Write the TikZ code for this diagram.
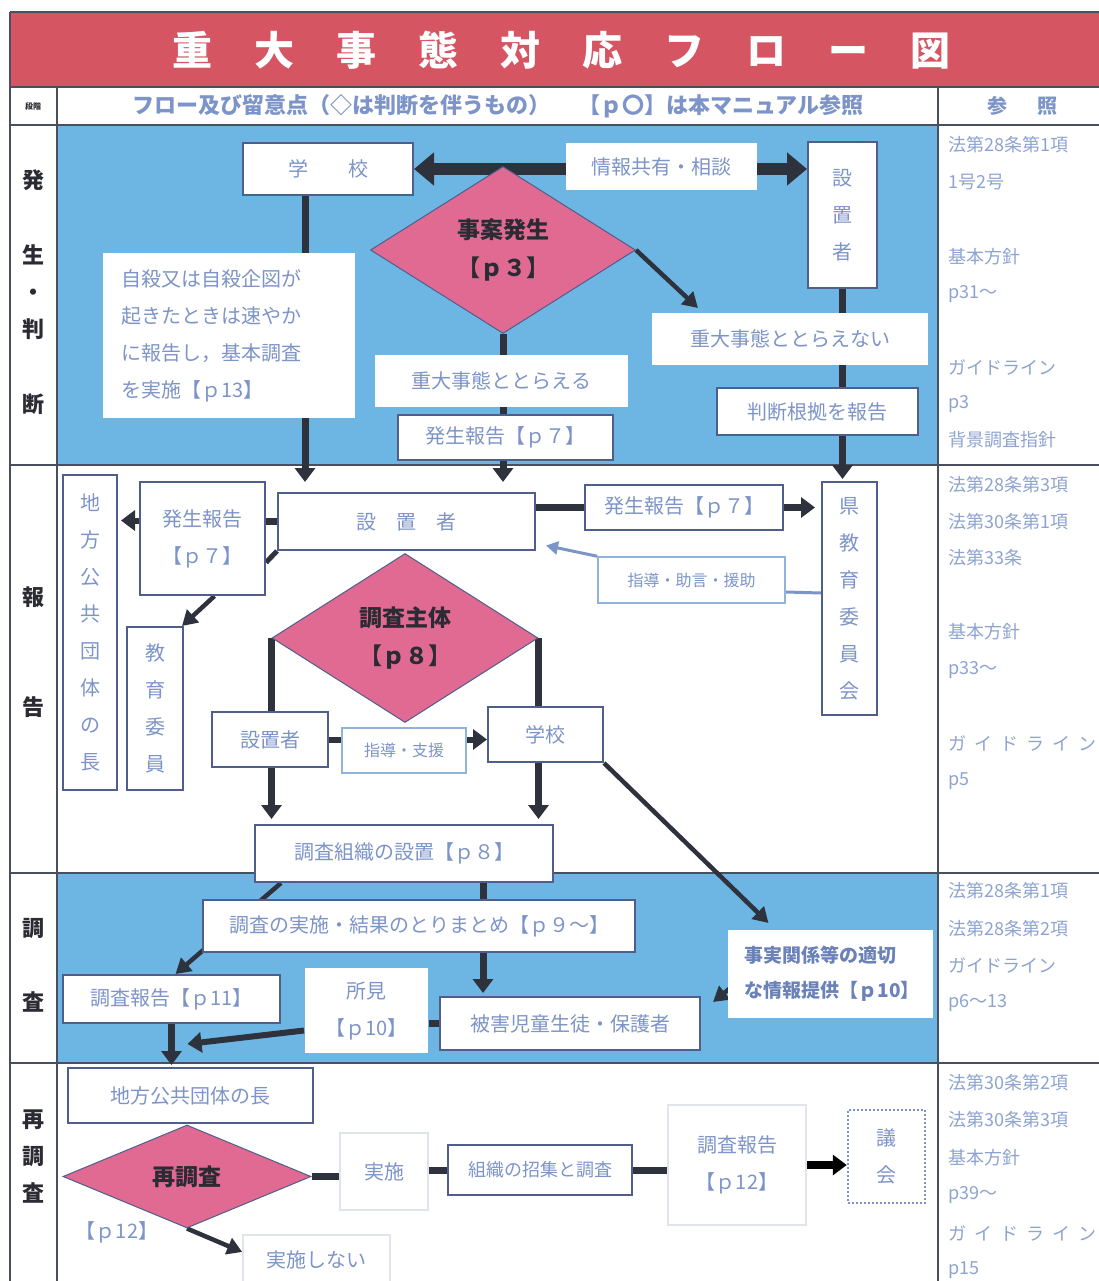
\documentclass[tikz,border=0pt]{standalone}
\usepackage{fontspec}
\setmainfont{Noto Sans CJK JP}
\usetikzlibrary{shapes.geometric,arrows.meta}
\definecolor{titlered}{HTML}{D65563}
\definecolor{bgblue}{HTML}{6DB6E3}
\definecolor{dpink}{HTML}{E06A92}
\definecolor{txtblue}{HTML}{7D94C8}
\definecolor{refblue}{HTML}{8EA4D0}
\definecolor{bord}{HTML}{4F5E8C}
\definecolor{darr}{HTML}{2E323D}
\definecolor{lightbord}{HTML}{8FB3DC}
\definecolor{faint}{HTML}{E2E4EC}
\definecolor{framecol}{HTML}{4A4F60}
\definecolor{labdark}{HTML}{2B2B33}
\definecolor{jjblue}{HTML}{6A82B8}
\pgfdeclarelayer{bg}\pgfdeclarelayer{conn}\pgfsetlayers{bg,conn,main}
\newcommand\tsp{\hspace{42pt}}
\begin{document}
\begin{tikzpicture}[x=1pt,y=-1pt,
  box/.style={draw=bord,line width=2pt,fill=white,inner sep=0pt,text=txtblue,
    font=\fontsize{20}{37}\selectfont,align=center},
  plain/.style={box,draw=none},
  faintbox/.style={box,draw=faint,line width=1.5pt},
  lightbox/.style={box,draw=lightbord,line width=1.5pt,font=\fontsize{16}{20}\selectfont},
  dia/.style={diamond,draw=bord,line width=1pt,fill=dpink,inner sep=0pt,
    font=\bfseries\fontsize{23}{38}\selectfont,text=labdark,align=center},
  lab/.style={font=\bfseries\fontsize{22}{37}\selectfont,text=labdark,align=center,inner sep=0pt},
  ref/.style={font=\fontsize{18}{18}\selectfont,text=refblue,inner sep=0pt,anchor=west},
  vline/.style={draw=darr,line width=7pt},
  varr/.style={vline,-{Triangle[length=14pt,width=20pt]}},
  diagarr/.style={draw=darr,line width=4.5pt,-{Triangle[length=15pt,width=17pt]}},
  hline/.style={draw=darr,line width=7pt},
  harr/.style={draw=darr,line width=7pt,-{Triangle[length=14pt,width=20pt]}},
  advarr/.style={draw=txtblue,line width=3pt,-{Triangle[length=12pt,width=13pt]}},
  dblarr/.style={draw=darr,line width=12pt,{Triangle[length=20pt,width=32pt]}-{Triangle[length=20pt,width=32pt]}},
]
\useasboundingbox (0,0) rectangle (1098,1281);

% ---------- frame and backgrounds ----------
\begin{pgfonlayer}{bg}
\fill[white] (0,0) rectangle (1098,1281);
\fill[titlered] (10,12) rectangle (1110,87);
\fill[bgblue] (57,125) rectangle (938,465);
\fill[bgblue] (57,873) rectangle (938,1063);
\draw[framecol,line width=2pt]
  (10,12) -- (1110,12) (10,12) -- (10,1290)
  (10,87) -- (1110,87) (10,125) -- (1110,125)
  (10,465) -- (1110,465) (10,873) -- (1110,873) (10,1063) -- (1110,1063)
  (57,87) -- (57,1290) (938,87) -- (938,1290);
\end{pgfonlayer}

% ---------- title and header ----------
\node[font=\bfseries\fontsize{40}{40}\selectfont,text=white,inner sep=0pt] (title) at (561,50)
  {重\tsp 大\tsp 事\tsp 態\tsp 対\tsp 応\tsp フ\tsp ロ\tsp ー\tsp 図};
\node[font=\bfseries\fontsize{8}{8}\selectfont,text=labdark,inner sep=0pt] (stage) at (33,106) {段階};
\node[font=\bfseries\fontsize{22}{22}\selectfont,text=txtblue,inner sep=0pt] (hdr) at (498,106)
  {フロー及び留意点（◇は判断を伴うもの）\hspace{28pt}【ｐ〇】は本マニュアル参照};
\node[font=\bfseries\fontsize{20}{20}\selectfont,text=txtblue,inner sep=0pt] (hdrref) at (1022,106) {参\hspace{30pt}照};

% ---------- stage labels ----------
\node[lab] (l1) at (33,292) {発\\[38pt]生\\・\\判\\[38pt]断};
\node[lab] (l2) at (33,652) {報\\[73pt]告};
\node[lab] (l3) at (33,965) {調\\[37pt]査};
\node[lab] (l4) at (33,1157) {再\\調\\査};

% ---------- section 1 ----------
\node[box,minimum width=170,minimum height=52] (school1) at (328,169) {学　　校};
\node[plain,minimum width=191,minimum height=47] (share) at (661.5,166.5) {情報共有・相談};
\node[box,minimum width=69,minimum height=146] (sets1) at (842.5,215) {設\\置\\者};
\node[dia,minimum width=265,minimum height=167] (dia1) at (503,250) {事案発生\\【ｐ３】};
\node[plain,minimum width=276,minimum height=52] (notsig) at (790,339) {重大事態ととらえない};
\node[box,minimum width=201,minimum height=47] (judge) at (817.5,411.5) {判断根拠を報告};
\node[plain,minimum width=253,minimum height=52] (sig) at (501.5,381) {重大事態ととらえる};
\node[box,minimum width=215,minimum height=45] (rep1) at (505.5,437.5) {発生報告【ｐ７】};
\node[plain,minimum width=252,minimum height=165,text width=215,align=left] (note) at (229,335.5)
  {自殺又は自殺企図が\\起きたときは速やか\\に報告し，基本調査\\を実施【ｐ13】};

% ---------- section 2 ----------
\node[box,minimum width=257,minimum height=57] (sets2) at (406.5,521.5) {設　置　者};
\node[box,minimum width=198,minimum height=45] (rep2) at (684,507.5) {発生報告【ｐ７】};
\node[box,minimum width=55,minimum height=233] (kenkyo) at (849.5,598.5) {県\\教\\育\\委\\員\\会};
\node[lightbox,minimum width=187,minimum height=46] (advice) at (691.5,580) {指導・助言・援助};
\node[box,minimum width=125,minimum height=113] (rep3) at (202.5,538.5) {発生報告\\【ｐ７】};
\node[box,minimum width=54,minimum height=315] (chiho1) at (90,632.5) {地\\方\\公\\共\\団\\体\\の\\長};
\node[box,minimum width=56,minimum height=163] (kyoiku) at (155,708.5) {教\\育\\委\\員};
\node[dia,minimum width=266,minimum height=169] (dia2) at (405,638) {調査主体\\【ｐ８】};
\node[box,minimum width=116,minimum height=55] (sets3) at (270,739.5) {設置者};
\node[lightbox,minimum width=124,minimum height=45] (guide) at (404,750.5) {指導・支援};
\node[box,minimum width=115,minimum height=55] (school2) at (545.5,734.5) {学校};
\node[box,minimum width=298,minimum height=57] (org) at (404,853.5) {調査組織の設置【ｐ８】};

% ---------- section 3 ----------
\node[box,minimum width=432,minimum height=52] (exec) at (419,926) {調査の実施・結果のとりまとめ【ｐ９～】};
\node[box,minimum width=217,minimum height=48] (report) at (171.5,999) {調査報告【ｐ11】};
\node[plain,minimum width=123,minimum height=85] (shoken) at (366.5,1010.5) {所見\\【ｐ10】};
\node[box,minimum width=260,minimum height=53] (victim) at (570,1023.5) {被害児童生徒・保護者};
\node[plain,minimum width=205,minimum height=88,text width=172,align=left,text=jjblue,
  font=\bfseries\fontsize{19}{35}\selectfont] (jijitsu) at (830.5,974)
  {事実関係等の適切\\な情報提供【ｐ10】};

% ---------- section 4 ----------
\node[box,minimum width=245,minimum height=55] (chiho2) at (190.5,1095.5) {地方公共団体の長};
\node[dia,minimum width=248,minimum height=103] (dia3) at (187,1176.5) {再調査};
\node[inner sep=0pt,text=txtblue,font=\fontsize{20}{20}\selectfont] (p12) at (117,1232) {【ｐ12】};
\node[faintbox,minimum width=88,minimum height=77] (impl) at (384,1171.5) {実施};
\node[box,minimum width=184,minimum height=50,font=\fontsize{18}{20}\selectfont] (convene) at (540,1170) {組織の招集と調査};
\node[faintbox,minimum width=138,minimum height=120] (report2) at (737,1165) {調査報告\\【ｐ12】};
\node[box,draw=txtblue,dotted,line width=2.5pt,minimum width=77,minimum height=93] (gikai) at (886.5,1156.5) {議\\会};
\node[faintbox,minimum width=147,minimum height=50] (notimpl) at (316.5,1260) {実施しない};

% ---------- references ----------
\foreach \yy/\tx in {145/法第28条第1項,182/1号2号,257/基本方針,294/p31～,367/ガイドライン,404/p3,440/背景調査指針,
  485/法第28条第3項,522/法第30条第1項,558/法第33条,632/基本方針,670/p33～,743/ガ\hspace{8pt}イ\hspace{8pt}ド\hspace{8pt}ラ\hspace{8pt}イ\hspace{8pt}ン,781/p5,
  891/法第28条第1項,929/法第28条第2項,965/ガイドライン,1003/p6～13,
  1083/法第30条第2項,1120/法第30条第3項,1158/基本方針,1195/p39～,1233/ガ\hspace{8pt}イ\hspace{8pt}ド\hspace{8pt}ラ\hspace{8pt}イ\hspace{8pt}ン,1270/p15}
  \node[ref] (ref\yy) at (948,\yy) {\tx};

% ---------- connectors ----------
\coordinate (vx) at (483,0);
\coordinate (join) at ([xshift=16pt,yshift=-20pt]report.south);
\begin{pgfonlayer}{conn}
% section 1
\draw[dblarr] (school1.east) -- (school1.east -| sets1.west);
\draw[varr,shorten >=10pt] ([xshift=-23pt]school1.south) -- ([xshift=-23pt]school1.south |- sets2.north);
\draw[varr,shorten >=10pt] (dia1.south) -- (dia1.south |- sets2.north);
\draw[varr,shorten >=2pt] (sets1.south) -- (sets1.south |- kenkyo.north);
\draw[diagarr] (dia1.east) -- ([xshift=-92pt,yshift=4pt]notsig.north);
% section 2
\draw[hline] (rep2.west -| sets2.east) -- (rep2.west);
\draw[harr,shorten >=6pt] (rep2.east) -- (rep2.east -| kenkyo.west);
\draw[draw=txtblue,line width=3pt] ([yshift=-12pt]advice.east) -- ([yshift=-13pt]advice.east -| kenkyo.west);
\draw[advarr] (advice.north west) -- ([xshift=10pt,yshift=-24pt]sets2.east);
\draw[hline] (sets2.west) -- (sets2.west -| rep3.east);
\draw[harr,line width=6pt,shorten >=3pt] ([yshift=18pt]rep3.west) -- ([yshift=18pt]rep3.west -| chiho1.east);
\draw[draw=darr,line width=5pt] (sets2.south west) -- ([yshift=-24pt]rep3.east);
\draw[diagarr] ([xshift=12pt]rep3.south) -- ([xshift=-2pt]kyoiku.north east);
\draw[varr,shorten >=5pt] (dia2.west) -- (dia2.west |- org.north);
\draw[varr,shorten >=5pt] (dia2.east) -- (dia2.east |- org.north);
\draw[harr,line width=6pt] (sets3.east) -- (sets3.east -| school2.west);
\draw[diagarr] (school2.south east) -- ([xshift=-62pt,yshift=6pt]jijitsu.north);
% section 3
\draw[vline] (org.south -| vx) -- (exec.north -| vx);
\draw[varr,shorten >=3pt] (exec.south -| vx) -- (victim.north -| vx);
\draw[diagarr] ([xshift=27pt]org.south west) -- ([xshift=4pt]report.north);
\draw[varr,shorten >=2pt] (report.south) -- (report.south |- chiho2.north);
\draw[harr,line width=6pt] ([yshift=-20pt]shoken.west) -- (join);
\draw[hline] (victim.west -| shoken.east) -- (victim.west);
\draw[diagarr] ([xshift=7pt,yshift=-11pt]jijitsu.west) -- ([xshift=12pt,yshift=-6pt]victim.north east);
% section 4
\draw[hline] (dia3.east) -- (dia3.east -| impl.west);
\draw[hline] (impl.east |- convene.west) -- (convene.west);
\draw[hline] (convene.east) -- (convene.east -| report2.west);
\draw[harr,draw=black,line width=8pt] (report2.east) -- (report2.east -| gikai.west);
\draw[diagarr] (dia3.south) -- ([yshift=8pt]notimpl.west);
\end{pgfonlayer}
\end{tikzpicture}
\end{document}
